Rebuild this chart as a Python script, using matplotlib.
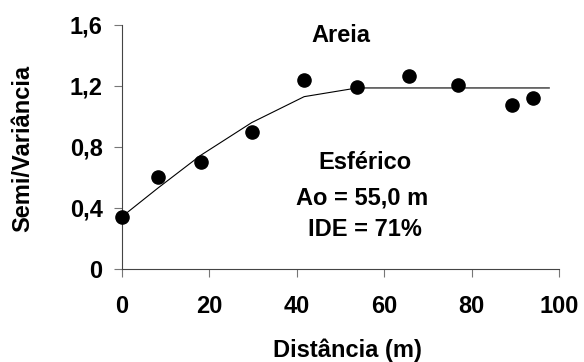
import matplotlib
matplotlib.use("Agg")
import matplotlib.pyplot as plt

# Observed semivariance
dist = [0, 8.2, 18.0, 29.7, 41.7, 53.8, 65.6, 77.0, 89.3, 94.1]
semi = [0.343, 0.60, 0.70, 0.896, 1.239, 1.19, 1.268, 1.209, 1.073, 1.119]

# Fitted spherical model line
model_x = [0, 8.2, 18.0, 29.7, 41.7, 53.8, 65.6, 77.0, 89.3, 97.8]
model_y = [0.343, 0.53, 0.745, 0.96, 1.13, 1.187, 1.187, 1.187, 1.187, 1.187]

xticks = [0, 20, 40, 60, 80, 100]
yticks = [0, 0.4, 0.8, 1.2, 1.6]
yticklabels = ["0", "0,4", "0,8", "1,2", "1,6"]

plt.rcParams['font.family'] = ['Liberation Sans', 'DejaVu Sans']
FS = 17

fig = plt.figure(figsize=(5.84, 3.62), dpi=100)
ax = fig.add_axes([0.2089, 0.257, 0.957 - 0.2089, 0.931 - 0.257])

ax.plot(model_x, model_y, color='black', lw=0.8)
ax.scatter(dist, semi, s=90, color='black', zorder=3, clip_on=False)

ax.set_xlim(0, 100)
ax.set_ylim(0, 1.6)
ax.set_xticks(xticks)
ax.set_xticklabels([str(v) for v in xticks])
ax.set_yticks(yticks)
ax.set_yticklabels(yticklabels)
for s in ['top', 'right']:
    ax.spines[s].set_visible(False)
for s in ['left', 'bottom']:
    ax.spines[s].set_color('#444444')
    ax.spines[s].set_linewidth(0.8)
ax.tick_params(direction='out', length=6, width=0.8, color='#777777',
               labelsize=FS)
ax.tick_params(axis='x', pad=13)
ax.tick_params(axis='y', pad=8)
for lab in ax.get_xticklabels() + ax.get_yticklabels():
    lab.set_fontweight('bold')

ax.set_xlabel('Distância (m)', fontsize=FS, fontweight='bold')
ax.set_ylabel('Semi/Variância', fontsize=FS, fontweight='bold')
ax.xaxis.label.set_va('center')
ax.yaxis.label.set_va('center')
ax.xaxis.set_label_coords(0.516, -0.332)
ax.yaxis.set_label_coords(-0.2265, 0.496)

ax.text(50.1, 1.534, 'Areia', ha='center', va='center', fontsize=FS, fontweight='bold')
ax.text(55.6, 0.695, 'Esférico', ha='center', va='center', fontsize=FS, fontweight='bold')
ax.text(54.9, 0.468, 'Ao = 55,0 m', ha='center', va='center', fontsize=FS, fontweight='bold')
ax.text(55.7, 0.256, 'IDE = 71%', ha='center', va='center', fontsize=FS, fontweight='bold')

fig.savefig('out.png', dpi=100)
